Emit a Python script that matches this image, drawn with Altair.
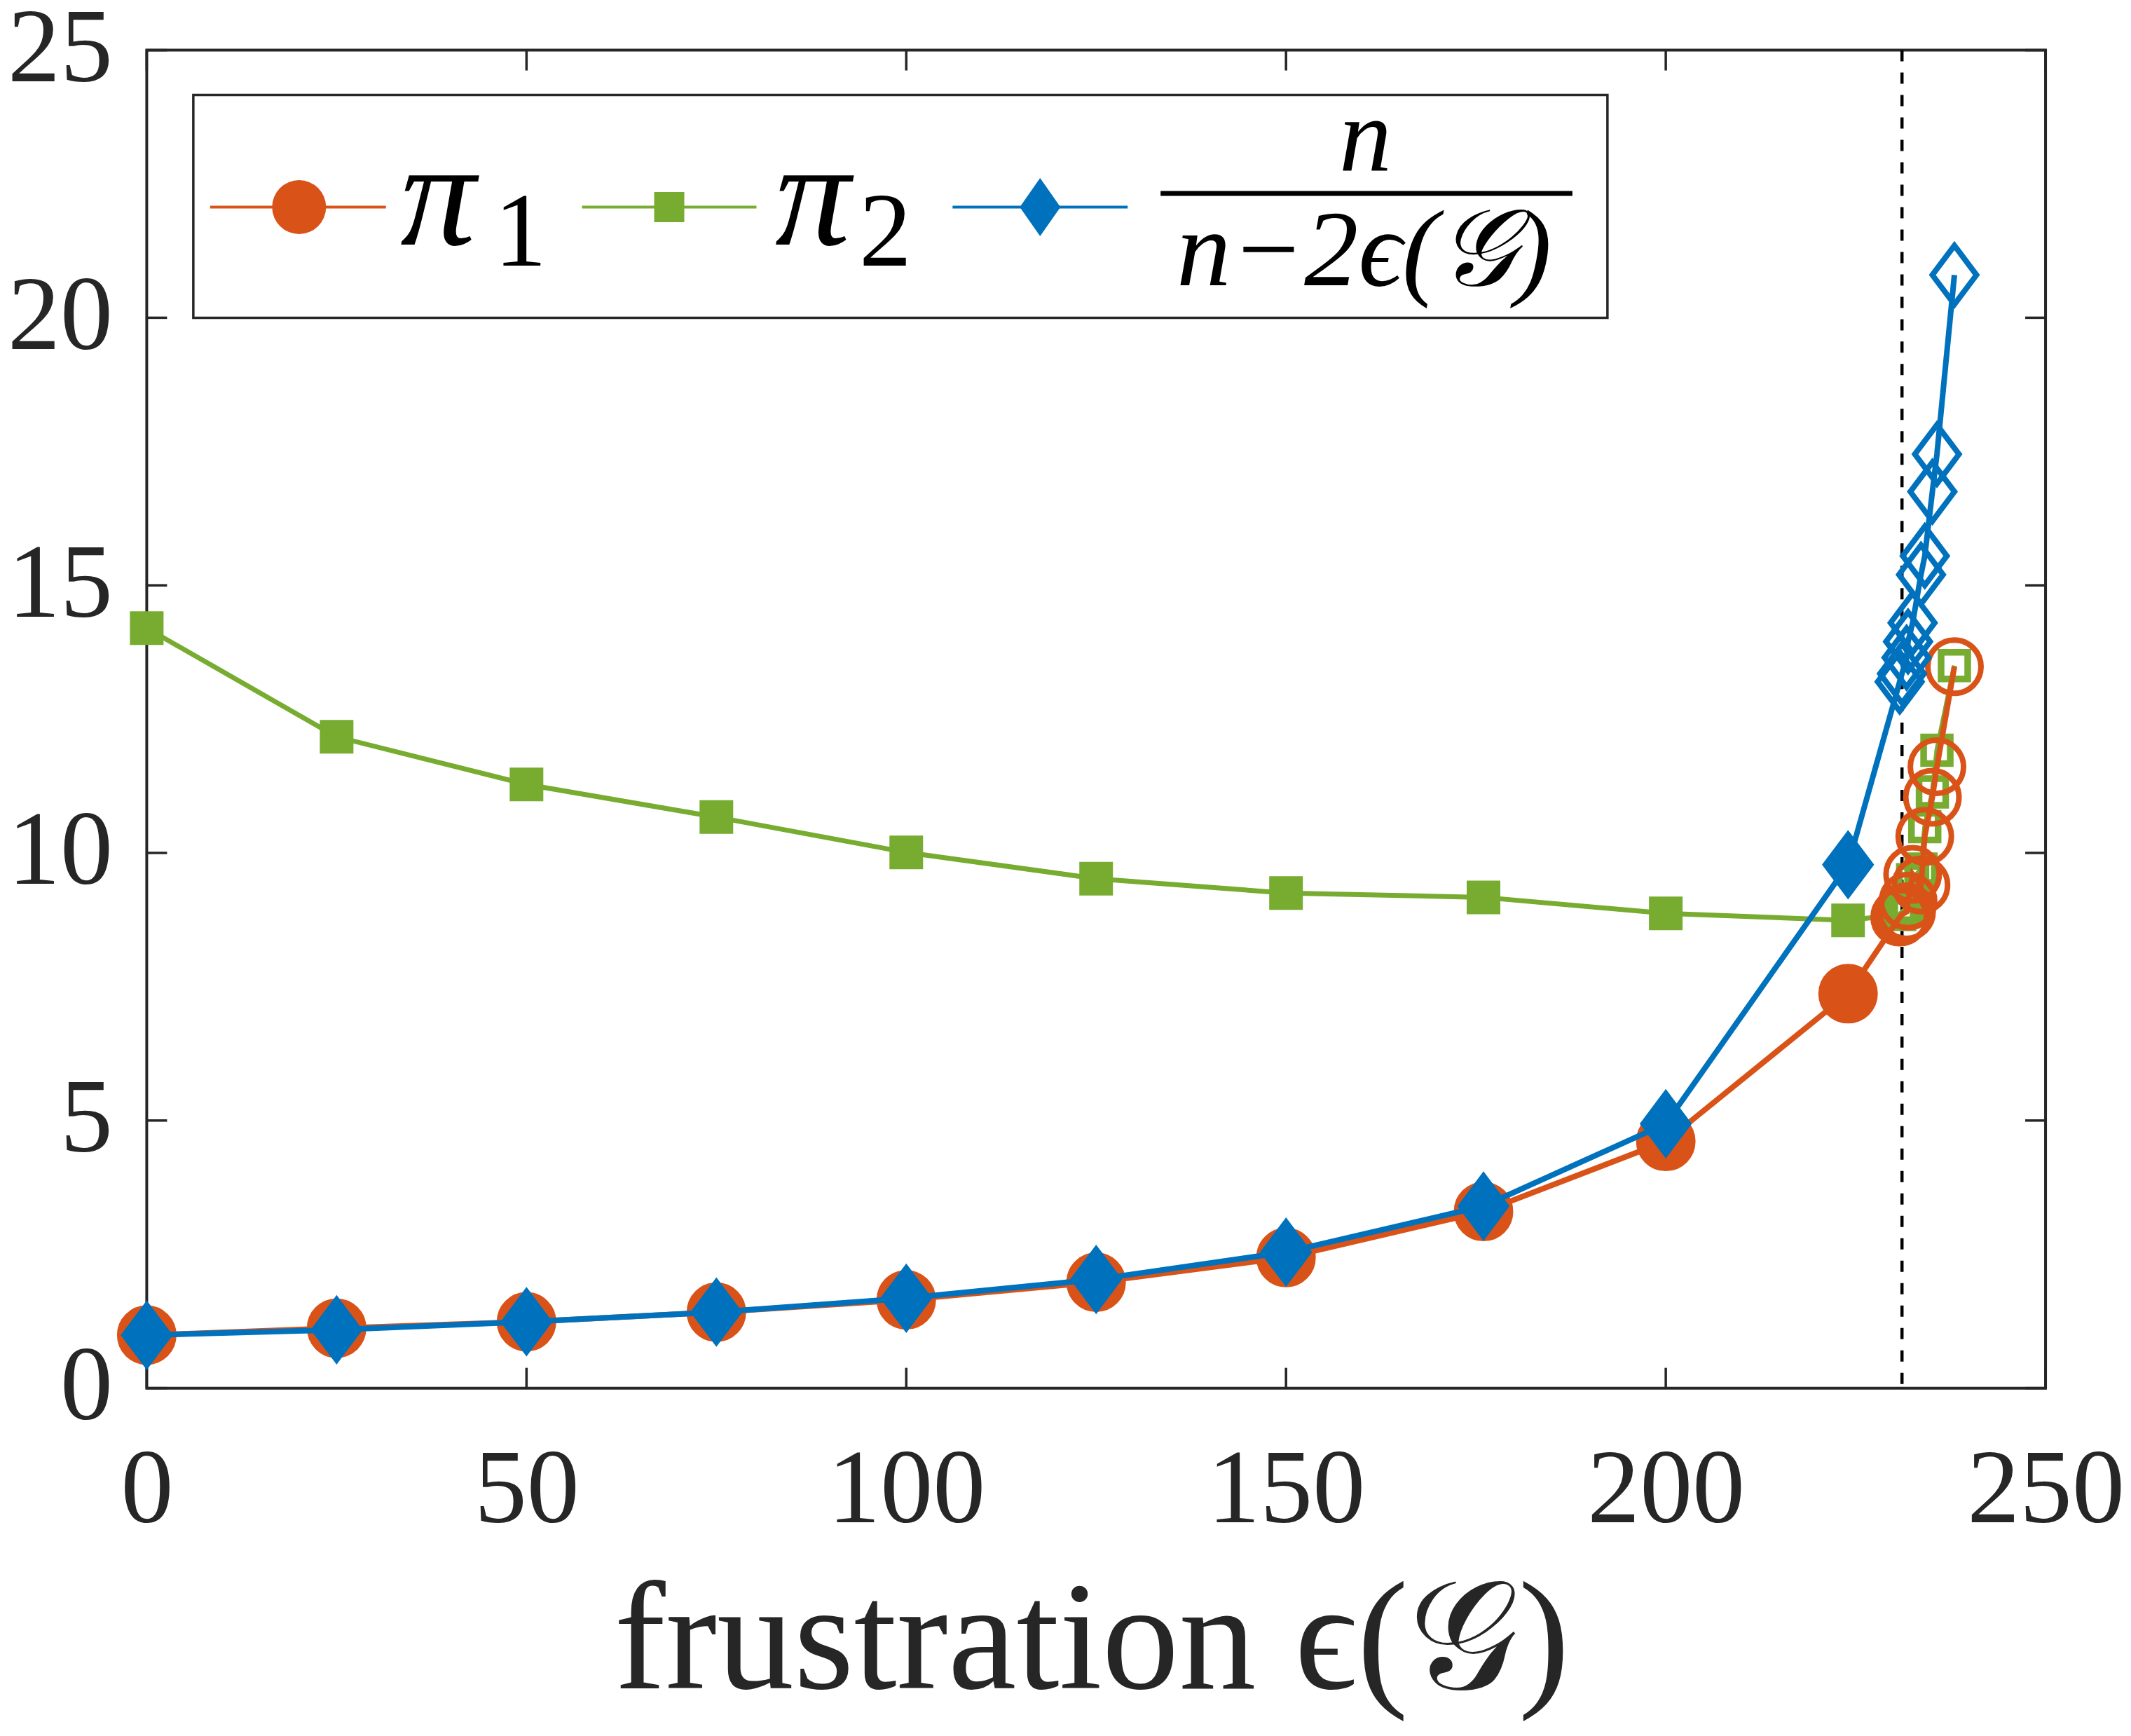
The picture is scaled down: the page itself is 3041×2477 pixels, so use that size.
import altair as alt
import pandas as pd

# ---------------- data ----------------
frustration = [0, 25, 50, 75, 100, 125, 150, 176, 200, 224,
               230.8, 231.1, 231.7, 231.9, 232.5, 233.6, 234.1, 235.1, 235.7, 238.0]
regime = ["sampled"] * 10 + ["extreme"] * 10
pi1 = [0.99, 1.12, 1.24, 1.42, 1.65, 1.98, 2.44, 3.30, 4.61, 7.37,
       8.80, 8.85, 8.90, 9.10, 9.60, 9.40, 10.31, 11.04, 11.61, 13.48]
pi2 = [14.20, 12.17, 11.28, 10.67, 10.01, 9.52, 9.25, 9.17, 8.87, 8.74,
       8.85, 8.90, 8.95, 9.00, 9.50, 9.70, 10.49, 11.14, 11.92, 13.50]
ratio = [0.99, 1.09, 1.24, 1.42, 1.68, 2.03, 2.54, 3.40, 4.94, 9.78,
         13.20, 13.35, 13.65, 13.95, 14.30, 15.20, 15.55, 16.75, 17.45, 20.80]
threshold = [231.1]
x_ticks = [0, 50, 100, 150, 200, 250]
y_ticks = [0, 5, 10, 15, 20, 25]

ORANGE = "#D95319"
GREEN = "#77AC30"
BLUE = "#0072BD"
AXC = "#262626"
FONT = "Liberation Serif"

W, H = 2711, 1910

df = pd.DataFrame({"x": frustration, "regime": regime,
                   "pi1": pi1, "pi2": pi2, "ratio": ratio})

xs = alt.Scale(domain=[0, 250], nice=False, zero=False)
ys = alt.Scale(domain=[0, 25], nice=False, zero=False)

x_axis = alt.Axis(values=x_ticks, title="frustration ϵ(𝒢)", ticks=False, tickSize=0,
                  domain=False, grid=False, labelFont=FONT, labelFontSize=150,
                  labelColor=AXC, labelBaseline="alphabetic", labelPadding=191,
                  labelFlush=False, labelOverlap=False, labelLimit=0, format="d",
                  titleFont=FONT, titleFontSize=220, titleFontWeight="normal",
                  titleColor=AXC, titleBaseline="alphabetic", titleY=428, titleX=1349,
                  titleAlign="center", titleLimit=0)
y_axis = alt.Axis(values=y_ticks, title=None, ticks=False, tickSize=0, domain=False,
                  grid=False, labelFont=FONT, labelFontSize=150, labelColor=AXC,
                  labelPadding=49, labelAlign="right", labelBaseline="alphabetic",
                  labelOffset=44, labelFlush=False, labelOverlap=False, labelLimit=0,
                  format="d")


def X(field="x"):
    return alt.X(f"{field}:Q", scale=xs, axis=x_axis)


def Y(field):
    return alt.Y(f"{field}:Q", scale=ys, axis=y_axis)


DIAMOND = "M0,-1L0.75,0L0,1L-0.75,0Z"

# inward ticks on all four sides
xt = pd.DataFrame({"x": x_ticks})
yt = pd.DataFrame({"y": y_ticks})
tick_len = 29
ticks_bottom = alt.Chart(xt).mark_rule(color=AXC, strokeWidth=3.5).encode(
    x=X(), y=alt.value(H), y2=alt.value(H - tick_len))
ticks_top = alt.Chart(xt).mark_rule(color=AXC, strokeWidth=3.5).encode(
    x=X(), y=alt.value(0), y2=alt.value(tick_len))
ticks_left = alt.Chart(yt).mark_rule(color=AXC, strokeWidth=3.5).encode(
    y=Y("y"), x=alt.value(0), x2=alt.value(tick_len))
ticks_right = alt.Chart(yt).mark_rule(color=AXC, strokeWidth=3.5).encode(
    y=Y("y"), x=alt.value(W), x2=alt.value(W - tick_len))

dashed = alt.Chart(pd.DataFrame({"x": threshold})).mark_rule(
    color="black", strokeWidth=4.5, strokeDash=[16, 16]).encode(x=X())


def series(field, color, shape, size_filled, size_open, line_w, open_w):
    base = alt.Chart(df)
    line = base.mark_line(color=color, strokeWidth=line_w).encode(
        x=X(), y=Y(field), order="x:Q")
    filled = base.transform_filter(alt.datum.regime == "sampled").mark_point(
        shape=shape, filled=True, color=color, stroke=color, strokeWidth=line_w,
        size=size_filled, opacity=1).encode(x=X(), y=Y(field))
    hollow = base.transform_filter(alt.datum.regime == "extreme").mark_point(
        shape=shape, filled=False, color=color, strokeWidth=open_w,
        size=size_open, opacity=1).encode(x=X(), y=Y(field))
    return [line, filled, hollow]


green_layers = series("pi2", GREEN, "square", 41 ** 2, 38 ** 2, 7, 9.5)
orange_layers = series("pi1", ORANGE, "circle", 77 ** 2, 76 ** 2, 8, 8)
blue_layers = series("ratio", BLUE, DIAMOND, 86 ** 2, 84 ** 2, 8, 8)

# ---------------- legend (drawn by hand for the math labels) ----------------
one = pd.DataFrame({"k": [0]})
LY = 224
leg = []
leg.append(alt.Chart(one).mark_rect(fill="white", stroke=AXC, strokeWidth=3.5).encode(
    x=alt.value(66.5), x2=alt.value(2085.5), y=alt.value(64), y2=alt.value(382)))


def leg_line(x0, x1, color):
    return alt.Chart(one).mark_rule(color=color, strokeWidth=4).encode(
        x=alt.value(x0), x2=alt.value(x1), y=alt.value(LY))


def leg_sym(xc, color, shape, size):
    return alt.Chart(one).mark_point(shape=shape, filled=True, color=color,
                                     size=size, opacity=1).encode(
        x=alt.value(xc), y=alt.value(LY))


def leg_text(txt, x0, yb, size, italic=True, align="left"):
    return alt.Chart(one).mark_text(text=txt, font=FONT, fontSize=size,
                                    fontStyle="italic" if italic else "normal",
                                    align=align, baseline="alphabetic",
                                    color="black").encode(
        x=alt.value(x0), y=alt.value(yb))


leg += [leg_line(90.5, 341.5, ORANGE), leg_sym(217.5, ORANGE, "circle", 77 ** 2),
        leg_text("π", 362, 278, 215), leg_text("1", 496, 308, 150, italic=False),
        leg_line(621.5, 870.5, GREEN), leg_sym(746, GREEN, "square", 43 ** 2),
        leg_text("π", 897, 278, 215), leg_text("2", 1017, 308, 150, italic=False),
        leg_line(1150.5, 1400.5, BLUE), leg_sym(1275.5, BLUE, "M0,-1L0.7,0L0,1L-0.7,0Z", 83 ** 2),
        alt.Chart(one).mark_rule(color="black", strokeWidth=7).encode(
            x=alt.value(1447.5), x2=alt.value(2035.5), y=alt.value(204.5)),
        leg_text("n", 1740, 172, 150, align="center"),
        leg_text("n−2ϵ(𝒢)", 1738, 336, 155, align="center")]

chart = alt.layer(
    dashed, ticks_bottom, ticks_top, ticks_left, ticks_right,
    *green_layers, *orange_layers, *blue_layers, *leg
).properties(
    width=W, height=H,
    autosize=alt.AutoSizeParams(type="none"),
    padding={"left": 201.5, "top": 63, "right": 114, "bottom": 482},
    background="white"
).configure_view(stroke=AXC, strokeWidth=4)

chart.save("out.html", embed_options={"renderer": "svg", "actions": False})
